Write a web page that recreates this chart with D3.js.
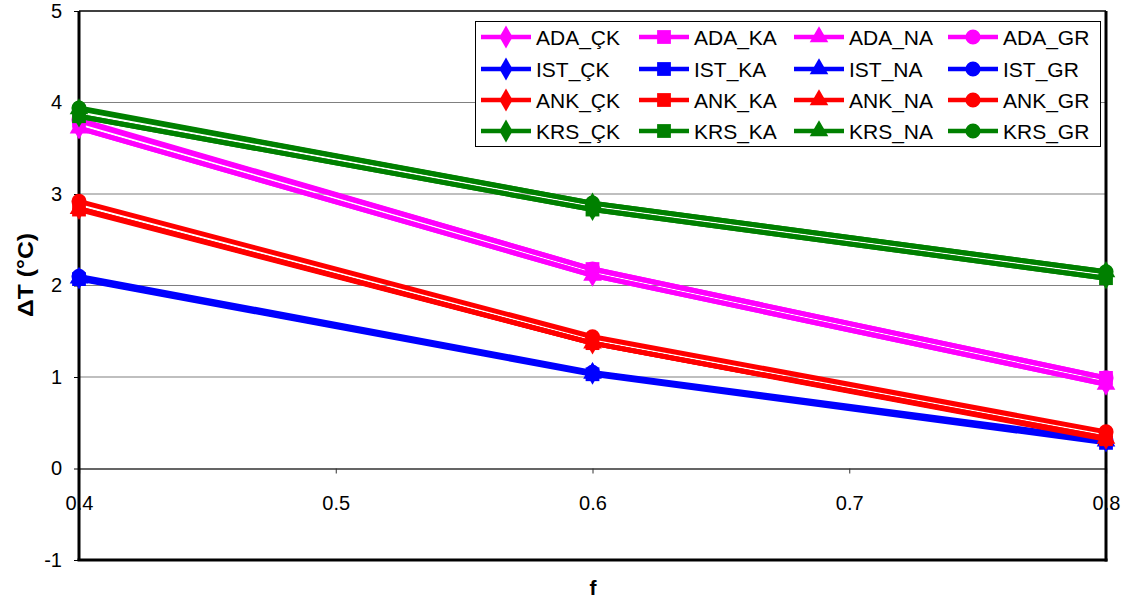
<!DOCTYPE html>
<html><head><meta charset="utf-8">
<script src="https://cdn.jsdelivr.net/npm/d3@7"></script>
<style>body{margin:0;background:#fff}text{font-family:Arial,"Liberation Sans",sans-serif}</style>
</head><body>
<svg id="c" width="1126" height="606"></svg>
<script>
// ---- data ----
const fValues = [0.4, 0.6, 0.8];
const xTicks = [0.4, 0.5, 0.6, 0.7, 0.8];
const yTicks = [-1, 0, 1, 2, 3, 4, 5];
const ADA_CK = [3.72, 2.11, 0.92];
const ADA_KA = [3.80, 2.18, 0.99];
const ADA_NA = [3.72, 2.11, 0.92];
const ADA_GR = [3.81, 2.18, 0.99];
const IST_CK = [2.08, 1.04, 0.30];
const IST_KA = [2.07, 1.03, 0.28];
const IST_NA = [2.08, 1.04, 0.30];
const IST_GR = [2.10, 1.05, 0.31];
const ANK_CK = [2.84, 1.37, 0.33];
const ANK_KA = [2.83, 1.37, 0.32];
const ANK_NA = [2.84, 1.37, 0.33];
const ANK_GR = [2.92, 1.44, 0.40];
const KRS_CK = [3.85, 2.83, 2.08];
const KRS_KA = [3.85, 2.83, 2.08];
const KRS_NA = [3.93, 2.90, 2.15];
const KRS_GR = [3.94, 2.90, 2.15];
const seriesNames = ["ADA_ÇK","ADA_KA","ADA_NA","ADA_GR","IST_ÇK","IST_KA","IST_NA","IST_GR",
  "ANK_ÇK","ANK_KA","ANK_NA","ANK_GR","KRS_ÇK","KRS_KA","KRS_NA","KRS_GR"];
const seriesValues = [ADA_CK,ADA_KA,ADA_NA,ADA_GR,IST_CK,IST_KA,IST_NA,IST_GR,
  ANK_CK,ANK_KA,ANK_NA,ANK_GR,KRS_CK,KRS_KA,KRS_NA,KRS_GR];

const groupColors = ["#FF00FF","#0000FF","#FF0000","#008000"];
const shapes = [d3.symbolDiamond, d3.symbolSquare, d3.symbolTriangle, d3.symbolCircle];
const shapeSizes = [150, 190, 150, 180];

const series = seriesNames.map((n,i)=>({name:n, values:seriesValues[i],
  color:groupColors[Math.floor(i/4)], shape:shapes[i%4], size:shapeSizes[i%4]}));

// ---- layout ----
const svg = d3.select("#c");
const L=79, R=1106, T=11, B=560;
const x = d3.scaleLinear().domain([0.4,0.8]).range([L,R]);
const y = d3.scaleLinear().domain([-1,5]).range([B,T]);
const fmtY = d => String(d);

// gridlines
svg.append("g").selectAll("line").data(yTicks.filter(v=>v>0 && v<5)).join("line")
  .attr("x1",L).attr("x2",R).attr("y1",d=>y(d)).attr("y2",d=>y(d))
  .attr("stroke","#808080").attr("stroke-width",1.2);

// y axis
const yAxis = d3.axisLeft(y).tickValues(yTicks).tickSize(5).tickPadding(12).tickFormat(fmtY);
const gy = svg.append("g").attr("transform",`translate(${L},0)`).call(yAxis);
gy.select(".domain").remove();
gy.selectAll(".tick line").attr("stroke","#000");
gy.selectAll("text").attr("font-size",20).attr("fill","#000");

// x axis at y=0
const xAxis = d3.axisBottom(x).tickValues(xTicks).tickSize(5).tickPadding(22).tickFormat(d3.format(".1f"));
const gx = svg.append("g").attr("transform",`translate(0,${y(0)})`).call(xAxis);
gx.select(".domain").attr("stroke","#333").attr("stroke-width",1.3);
gx.selectAll(".tick line").attr("stroke","#333");
gx.selectAll("text").attr("font-size",20).attr("fill","#000");

// frame
svg.append("line").attr("x1",L).attr("x2",R).attr("y1",T).attr("y2",T).attr("stroke","#000").attr("stroke-width",1.5);
svg.append("line").attr("x1",L).attr("x2",L).attr("y1",T).attr("y2",B).attr("stroke","#000").attr("stroke-width",3);
svg.append("line").attr("x1",R).attr("x2",R).attr("y1",T).attr("y2",B+1.5).attr("stroke","#000").attr("stroke-width",3);
svg.append("line").attr("x1",L-1.5).attr("x2",R+1.5).attr("y1",B).attr("y2",B).attr("stroke","#000").attr("stroke-width",3);

// series
const line = d3.line().x((d,i)=>x(fValues[i])).y(d=>y(d));
series.forEach(s=>{
  const g = svg.append("g");
  g.append("path").attr("d",line(s.values)).attr("fill","none").attr("stroke",s.color).attr("stroke-width",5);
  g.selectAll("path.m").data(s.values).join("path").attr("class","m")
    .attr("transform",(d,i)=>`translate(${x(fValues[i])},${y(d)})`)
    .attr("d",d3.symbol().type(s.shape).size(s.size)).attr("fill",s.color);
});

// legend
const lg = svg.append("g");
lg.append("rect").attr("x",475.5).attr("y",21.5).attr("width",625).attr("height",125)
  .attr("fill","#fff").attr("stroke","#000").attr("stroke-width",1);
const colX = [481, 639, 794, 948];
const rowY = [37, 69, 100, 131];
series.forEach((s,i)=>{
  const cx = colX[i%4], cy = rowY[Math.floor(i/4)];
  lg.append("line").attr("x1",cx).attr("x2",cx+50).attr("y1",cy).attr("y2",cy)
    .attr("stroke",s.color).attr("stroke-width",4.5);
  lg.append("path").attr("transform",`translate(${cx+25},${cy})`)
    .attr("d",d3.symbol().type(s.shape).size(s.size)).attr("fill",s.color);
  lg.append("text").attr("x",cx+55).attr("y",cy).attr("dy","0.36em")
    .attr("font-size",21).attr("fill","#000").text(s.name);
});

// axis titles
svg.append("text").attr("x",593).attr("y",595).attr("text-anchor","middle")
  .attr("font-size",21).attr("font-weight","bold").text("f");
svg.append("text").attr("transform","translate(33,275) rotate(-90)").attr("text-anchor","middle")
  .attr("font-size",22).attr("font-weight","bold")
  .attr("textLength",84).attr("lengthAdjust","spacingAndGlyphs").text("ΔT (°C)");
</script>
</body></html>
